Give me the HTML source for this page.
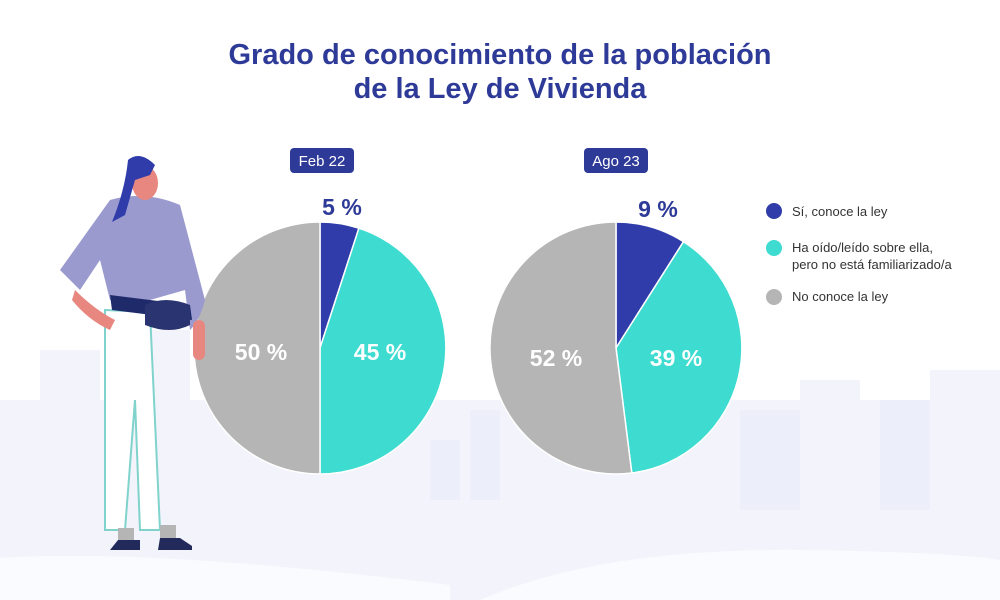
<!DOCTYPE html>
<html><head><meta charset="utf-8"><style>
html,body{margin:0;padding:0;width:1000px;height:600px;overflow:hidden;background:#fff;font-family:"Liberation Sans",sans-serif}
svg{display:block}
</style></head><body>
<svg width="1000" height="600" viewBox="0 0 1000 600" xmlns="http://www.w3.org/2000/svg">
<g fill="#f3f4fb">
<rect x="0" y="400" width="1000" height="200"/>
<rect x="40" y="350" width="60" height="60"/>
<rect x="150" y="330" width="40" height="80"/>
<rect x="430" y="440" width="30" height="60" fill="#eceefa"/>
<rect x="470" y="410" width="30" height="90" fill="#eceefa"/>
<rect x="740" y="410" width="60" height="100" fill="#eceefa"/>
<rect x="800" y="380" width="60" height="130"/>
<rect x="880" y="400" width="50" height="110" fill="#eceefa"/>
<rect x="930" y="370" width="70" height="140"/>
</g>
<path d="M0,558 Q150,548 450,585 L450,600 L0,600 Z" fill="#fafbfe"/>
<path d="M480,600 Q600,548 800,550 Q950,552 1000,560 L1000,600 Z" fill="#fafbfe"/>
<text x="500" y="64" text-anchor="middle" font-size="29" font-weight="bold" fill="#2e3a97">Grado de conocimiento de la población</text>
<text x="500" y="98" text-anchor="middle" font-size="29" font-weight="bold" fill="#2e3a97">de la Ley de Vivienda</text>
<rect x="290" y="148" width="64" height="25" rx="4" fill="#2e3a97"/>
<text x="322" y="166" text-anchor="middle" font-size="15" fill="#fff">Feb 22</text>
<rect x="584" y="148" width="64" height="25" rx="4" fill="#2e3a97"/>
<text x="616" y="166" text-anchor="middle" font-size="15" fill="#fff">Ago 23</text>
<g stroke="#fff" stroke-width="1.5">
<path d="M320,348 L320,222 A126,126 0 0 1 358.9,228.2 Z" fill="#2f3caa"/>
<path d="M320,348 L358.9,228.2 A126,126 0 0 1 320,474 Z" fill="#3ddbd0"/>
<path d="M320,348 L320,474 A126,126 0 0 1 320,222 Z" fill="#b5b5b5"/>
<path d="M616,348 L616,222 A126,126 0 0 1 683.5,241.7 Z" fill="#2f3caa"/>
<path d="M616,348 L683.5,241.7 A126,126 0 0 1 631.8,473 Z" fill="#3ddbd0"/>
<path d="M616,348 L631.8,473 A126,126 0 1 1 616,222 Z" fill="#b5b5b5"/>
</g>
<g font-size="23" font-weight="bold" text-anchor="middle">
<text x="342" y="215" fill="#2e3a97">5 %</text>
<text x="380" y="360" fill="#fff">45 %</text>
<text x="261" y="360" fill="#fff">50 %</text>
<text x="658" y="217" fill="#2e3a97">9 %</text>
<text x="676" y="366" fill="#fff">39 %</text>
<text x="556" y="366" fill="#fff">52 %</text>
</g>
<circle cx="774" cy="211" r="8" fill="#2f3caa"/>
<circle cx="774" cy="248" r="8" fill="#3ddbd0"/>
<circle cx="774" cy="297" r="8" fill="#b5b5b5"/>
<g font-size="13" fill="#333">
<text x="792" y="216">Sí, conoce la ley</text>
<text x="792" y="252">Ha oído/leído sobre ella,</text>
<text x="792" y="269">pero no está familiarizado/a</text>
<text x="792" y="301">No conoce la ley</text>
</g>
<g>
<path d="M105,310 L150,312 L160,530 L140,530 L135,400 L125,530 L105,530 Z" fill="#fff" stroke="#7fd3cc" stroke-width="2"/>
<rect x="118" y="528" width="16" height="14" fill="#b5b5b5"/>
<rect x="160" y="525" width="16" height="14" fill="#b5b5b5"/>
<path d="M118,540 h22 v10 h-30 Z" fill="#222a5c"/>
<path d="M160,538 h20 l12,8 v4 h-34 Z" fill="#222a5c"/>
<path d="M110,200 Q145,190 180,205 L205,300 Q200,320 190,330 L185,290 L150,300 L110,300 L100,260 L80,290 L60,270 Z" fill="#9a9acf"/>
<path d="M110,295 L190,305 L192,320 L112,310 Z" fill="#1f2a6b"/>
<path d="M145,305 q20,-10 45,0 v20 q-20,10 -45,0 Z" fill="#2a3470"/>
<ellipse cx="145" cy="183" rx="13" ry="17" fill="#e8877f"/>
<path d="M128,160 Q140,150 155,165 L150,175 L135,180 L125,215 L112,222 Q125,190 128,160 Z" fill="#2f3caa"/>
<path d="M75,290 Q95,310 115,320 L110,330 Q88,320 72,300 Z" fill="#e8877f"/>
<rect x="193" y="320" width="12" height="40" rx="6" fill="#e8877f"/>
</g>
</svg>
</body></html>
